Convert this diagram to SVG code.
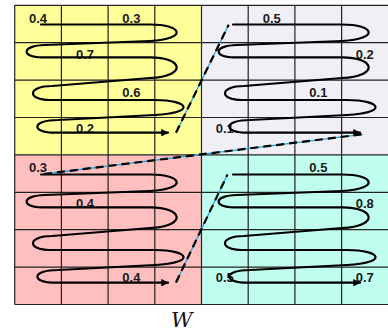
<svg xmlns="http://www.w3.org/2000/svg" width="388" height="335" viewBox="0 0 388 335">
<style>
.g{stroke:#222;stroke-width:1.2;fill:none}
.lbl{font-family:"Liberation Sans",Arial,sans-serif;font-weight:bold;font-size:13px;fill:#1a1a1a}
.s{fill:none;stroke:#000;stroke-width:2.2;stroke-linecap:round;stroke-linejoin:round}
.blue{stroke:#1ea7e8;stroke-width:1.3;fill:none}
.dash{stroke:#000;stroke-width:2.2;stroke-dasharray:8 5;fill:none}
</style>
<defs>
<marker id="ah" viewBox="0 0 10 10" refX="9" refY="5" markerWidth="3.4" markerHeight="3.4" orient="auto" markerUnits="strokeWidth">
<path d="M0,0 L10,5 L0,10 z" fill="#000"/>
</marker>
<path id="snake" class="s" marker-end="url(#ah)" d="M41,24.5 H150 C183,24.5 188,39 150,41 L45,45 C21,45.5 21,57.3 42,57.3 H150 C183,57.3 188,76 150,78 L52,86 C27,86 27,100 50,100 H155 C190,100 196,113 155,115 L58,120 C31,120 31,132.7 55,132.7 H168"/>
</defs>
<g id="background">
<rect x="14.7" y="5.3" width="186.8" height="149.6" fill="#ffff99"/>
<rect x="201.5" y="5.3" width="186.5" height="149.6" fill="#f1eff6"/>
<rect x="14.7" y="154.9" width="186.8" height="149.6" fill="#ffbfbf"/>
<rect x="201.5" y="154.9" width="186.5" height="149.6" fill="#c0ffee"/>
</g>
<g id="grid" class="g">
<path d="M14.7,5.3 H388 M14.7,42.7 H388 M14.7,80.1 H388 M14.7,117.5 H388 M14.7,154.9 H388 M14.7,192.3 H388 M14.7,229.7 H388 M14.7,267.1 H388 M14.7,304.5 H388"/>
<path d="M14.7,5.3 V304.5 M61.4,5.3 V304.5 M108.1,5.3 V304.5 M154.8,5.3 V304.5 M201.5,5.3 V304.5 M248.2,5.3 V304.5 M294.9,5.3 V304.5 M341.6,5.3 V304.5"/>
</g>
<g id="labels">
<text class="lbl" x="29" y="22.7">0.4</text>
<text class="lbl" x="122.3" y="22.7">0.3</text>
<text class="lbl" x="76" y="59.3">0.7</text>
<text class="lbl" x="122.3" y="96.7">0.6</text>
<text class="lbl" x="76" y="133.3">0.2</text>
<text class="lbl" x="262.7" y="22.7">0.5</text>
<text class="lbl" x="355.7" y="59.3">0.2</text>
<text class="lbl" x="309.3" y="96.7">0.1</text>
<text class="lbl" x="215.7" y="133.3">0.1</text>
<text class="lbl" x="29" y="171.7">0.3</text>
<text class="lbl" x="76" y="208.3">0.4</text>
<text class="lbl" x="122.3" y="281.7">0.4</text>
<text class="lbl" x="309.3" y="171.7">0.5</text>
<text class="lbl" x="355.7" y="208.3">0.8</text>
<text class="lbl" x="215.7" y="282.3">0.5</text>
<text class="lbl" x="355.7" y="282.3">0.7</text>
</g>
<g id="scan-tl"><use href="#snake"/></g>
<g id="scan-tr"><use href="#snake" transform="translate(192,0)"/></g>
<g id="scan-bl"><use href="#snake" transform="translate(0,150)"/></g>
<g id="scan-br"><use href="#snake" transform="translate(192,150)"/></g>
<g id="connectors">
<path class="blue" d="M176,132.7 L228.7,24.7"/>
<path class="dash" d="M176,132.7 L228.7,24.7"/>
<path class="blue" d="M44,174 L362.5,134.3"/>
<path class="dash" d="M44,174 L362.5,134.3"/>
<path class="blue" d="M176,282.5 L227.5,174.5"/>
<path class="dash" d="M176,282.5 L227.5,174.5"/>
</g>
<text x="181.7" y="326.7" text-anchor="middle" font-family="'DejaVu Serif',serif" font-style="italic" font-size="21" fill="#111">W</text>
</svg>
